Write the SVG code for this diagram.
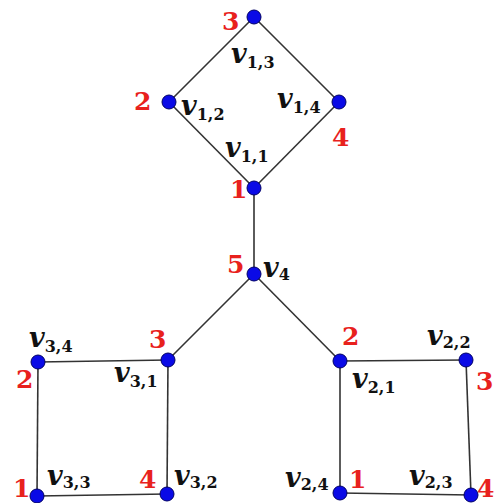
<svg xmlns="http://www.w3.org/2000/svg" width="496" height="503" viewBox="0 0 496 503">
<style>
.e{stroke:#333;stroke-width:1.6;fill:none}
.n{fill:#0a0ae6;stroke:#000066;stroke-width:1}
.v{font-family:"DejaVu Serif",serif;font-style:italic;font-weight:bold;font-size:27px;fill:#111}
.s{font-family:"DejaVu Serif",serif;font-style:normal;font-weight:bold;font-size:16px;fill:#111}
.r{font-family:"DejaVu Serif",serif;font-weight:bold;font-size:25px;fill:#e8211d}
</style>
<rect width="496" height="503" fill="#fff"/>
<g id="connectors">
<line class="e" x1="254" y1="17" x2="169" y2="102"/>
<line class="e" x1="254" y1="17" x2="339" y2="102"/>
<line class="e" x1="169" y1="102" x2="254" y2="188"/>
<line class="e" x1="339" y1="102" x2="254" y2="188"/>
<line class="e" x1="254" y1="188" x2="254" y2="274"/>
<line class="e" x1="254" y1="274" x2="168" y2="360"/>
<line class="e" x1="254" y1="274" x2="340" y2="361"/>
<line class="e" x1="168" y1="360" x2="38" y2="362"/>
<line class="e" x1="38" y1="362" x2="37" y2="496"/>
<line class="e" x1="37" y1="496" x2="167" y2="494"/>
<line class="e" x1="167" y1="494" x2="168" y2="360"/>
<line class="e" x1="340" y1="361" x2="466" y2="360"/>
<line class="e" x1="466" y1="360" x2="471" y2="495"/>
<line class="e" x1="471" y1="495" x2="340" y2="493"/>
<line class="e" x1="340" y1="493" x2="340" y2="361"/>
</g>
<g id="v13"><circle class="n" cx="254" cy="17" r="7"/><text class="r" x="222" y="30">3</text><text x="231" y="63"><tspan class="v">v</tspan><tspan class="s" dy="5">1,3</tspan></text></g>
<g id="v12"><circle class="n" cx="169" cy="102" r="7"/><text class="r" x="134" y="110">2</text><text x="181" y="115"><tspan class="v">v</tspan><tspan class="s" dy="5">1,2</tspan></text></g>
<g id="v14"><circle class="n" cx="339" cy="102" r="7"/><text class="r" x="332" y="146">4</text><text x="277" y="108"><tspan class="v">v</tspan><tspan class="s" dy="5">1,4</tspan></text></g>
<g id="v11"><circle class="n" cx="254" cy="188" r="7"/><text class="r" x="230" y="198">1</text><text x="225" y="157"><tspan class="v">v</tspan><tspan class="s" dy="5">1,1</tspan></text></g>
<g id="v4"><circle class="n" cx="254" cy="274" r="7"/><text class="r" x="227" y="273">5</text><text x="263" y="277"><tspan class="v">v</tspan><tspan class="s" dy="3">4</tspan></text></g>
<g id="v31"><circle class="n" cx="168" cy="360" r="7"/><text class="r" x="149" y="348">3</text><text x="114" y="382"><tspan class="v">v</tspan><tspan class="s" dy="5">3,1</tspan></text></g>
<g id="v34"><circle class="n" cx="38" cy="362" r="7"/><text class="r" x="16" y="388">2</text><text x="29" y="347"><tspan class="v">v</tspan><tspan class="s" dy="5">3,4</tspan></text></g>
<g id="v33"><circle class="n" cx="37" cy="496" r="7"/><text class="r" x="13" y="497">1</text><text x="47" y="485"><tspan class="v">v</tspan><tspan class="s" dy="3">3,3</tspan></text></g>
<g id="v32"><circle class="n" cx="167" cy="494" r="7"/><text class="r" x="139" y="488">4</text><text x="174" y="485"><tspan class="v">v</tspan><tspan class="s" dy="3">3,2</tspan></text></g>
<g id="v21"><circle class="n" cx="340" cy="361" r="7"/><text class="r" x="342" y="345">2</text><text x="352" y="388"><tspan class="v">v</tspan><tspan class="s" dy="5">2,1</tspan></text></g>
<g id="v22"><circle class="n" cx="466" cy="360" r="7"/><text class="r" x="476" y="390">3</text><text x="427" y="345"><tspan class="v">v</tspan><tspan class="s" dy="3">2,2</tspan></text></g>
<g id="v24"><circle class="n" cx="340" cy="493" r="7"/><text class="r" x="349" y="488">1</text><text x="285" y="487"><tspan class="v">v</tspan><tspan class="s" dy="3">2,4</tspan></text></g>
<g id="v23"><circle class="n" cx="471" cy="495" r="7"/><text class="r" x="477" y="497">4</text><text x="409" y="485"><tspan class="v">v</tspan><tspan class="s" dy="3">2,3</tspan></text></g>
</svg>
